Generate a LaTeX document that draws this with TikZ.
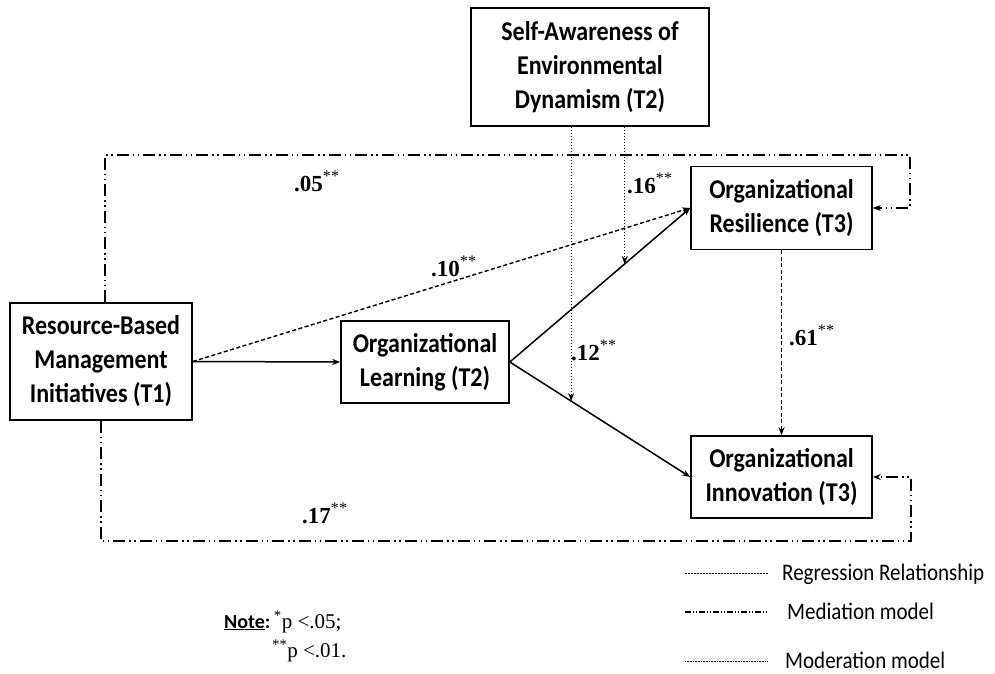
\documentclass[tikz,border=0pt]{standalone}
\usepackage{graphicx}
\usepackage{fontspec}
\setmainfont{Liberation Serif}
\newfontfamily\calfont{Carlito}
\newcommand\tline[1]{\scalebox{1}[1.13]{#1}}
\usetikzlibrary{arrows.meta,calc}
\begin{document}
\begin{tikzpicture}[x=1pt,y=-1pt,
  box/.style={draw,line width=1.6pt,align=center,inner sep=0pt,
    font=\calfont\bfseries\fontsize{24}{34}\selectfont},
  tip/.style={-{Stealth[length=8pt,width=6pt]}},
  solidln/.style={line width=1.5pt,tip},
  regln/.style={line width=1.4pt,dash pattern=on 4pt off 2.5pt,tip},
  modln/.style={line width=1.1pt,dash pattern=on 1pt off 2pt,tip},
  medln/.style={line width=1.5pt,dash pattern=on 12pt off 4pt on 1.5pt off 3.5pt on 1.5pt off 4pt,tip},
  coef/.style={anchor=base west,inner sep=0pt,font=\bfseries\fontsize{23}{23}\selectfont},
  legtext/.style={anchor=base west,inner sep=0pt,font=\calfont\fontsize{21}{21}\selectfont},
  notetext/.style={anchor=base west,inner sep=0pt,font=\fontsize{21}{21}\selectfont}
]
\useasboundingbox (0,0) rectangle (995,674);

% boxes
\node[box,minimum width=182pt,minimum height=117pt] (RBMI) at (101,361.5)
  {\tline{Resource-Based}\\\tline{Management}\\\tline{Initiatives (T1)}};
\node[box,minimum width=168pt,minimum height=82pt] (OL) at (425,362)
  {\tline{Organizational}\\\tline{Learning (T2)}};
\node[box,minimum width=238pt,minimum height=118pt] (SAED) at (590,67)
  {\tline{Self-Awareness of}\\\tline{Environmental}\\\tline{Dynamism (T2)}};
\node[box,minimum width=181pt,minimum height=83pt] (OR) at (781.5,208)
  {\tline{Organizational}\\\tline{Resilience (T3)}};
\node[box,minimum width=181pt,minimum height=82pt] (OI) at (781.5,477)
  {\tline{Organizational}\\\tline{Innovation (T3)}};

% main paths
\draw[solidln] (RBMI.east) -- (OL.west);
\draw[regln] (RBMI.east) -- (OR.west);
\draw[solidln] (OL.east) -- (OR.west);
\draw[solidln] (OL.east) -- (OI.west);
\draw[regln] (OR.south) -- (OI.north);

% moderation
\path (OL.east) -- (OR.west) coordinate[pos=0.637] (m1);
\path (OL.east) -- (OI.west) coordinate[pos=0.34] (m2);
\draw[modln] (SAED.south -| m1) -- (m1);
\draw[modln] (SAED.south -| m2) -- (m2);

% mediation
\coordinate (tr) at (910,155);
\coordinate (br) at (911,541);
\draw[medln] ([xshift=4pt]RBMI.north) |- (tr) |- (OR.east);
\draw[medln] (RBMI.south) |- (br) |- (OI.east);

% coefficients
\node[coef] (c05) at (294,191) {.05\textsuperscript{\mdseries**}};
\node[coef] (c10) at (431,276) {.10\textsuperscript{\mdseries**}};
\node[coef] (c16) at (627,193) {.16\textsuperscript{\mdseries**}};
\node[coef] (c12) at (571,360) {.12\textsuperscript{\mdseries**}};
\node[coef] (c61) at (789,345) {.61\textsuperscript{\mdseries**}};
\node[coef] (c17) at (302,523) {.17\textsuperscript{\mdseries**}};

% legend
\coordinate (lr1) at (685,573); \coordinate (lr2) at (768,573);
\coordinate (lm1) at (685,612); \coordinate (lm2) at (768,612);
\coordinate (lo1) at (685,661); \coordinate (lo2) at (768,661);
\draw[line width=0.9pt,dash pattern=on 2pt off 1pt] (lr1) -- (lr2);
\draw[line width=1.1pt,dash pattern=on 6pt off 2pt on 1pt off 2pt on 1pt off 2pt] (lm1) -- (lm2);
\draw[line width=0.9pt,dash pattern=on 0.8pt off 0.8pt] (lo1) -- (lo2);
\node[legtext] (t1) at (782,580) {\tline{Regression Relationship}};
\node[legtext] (t2) at (787,619) {\tline{Mediation model}};
\node[legtext] (t3) at (785,668) {\tline{Moderation model}};

% note
\node[notetext] (n1) at (224,628) {{\calfont\bfseries\fontsize{20}{20}\selectfont\underline{Note}:}\,\textsuperscript{*}p <.05;};
\node[notetext] (n2) at (272,657) {\textsuperscript{**}p <.01.};
\end{tikzpicture}
\end{document}
